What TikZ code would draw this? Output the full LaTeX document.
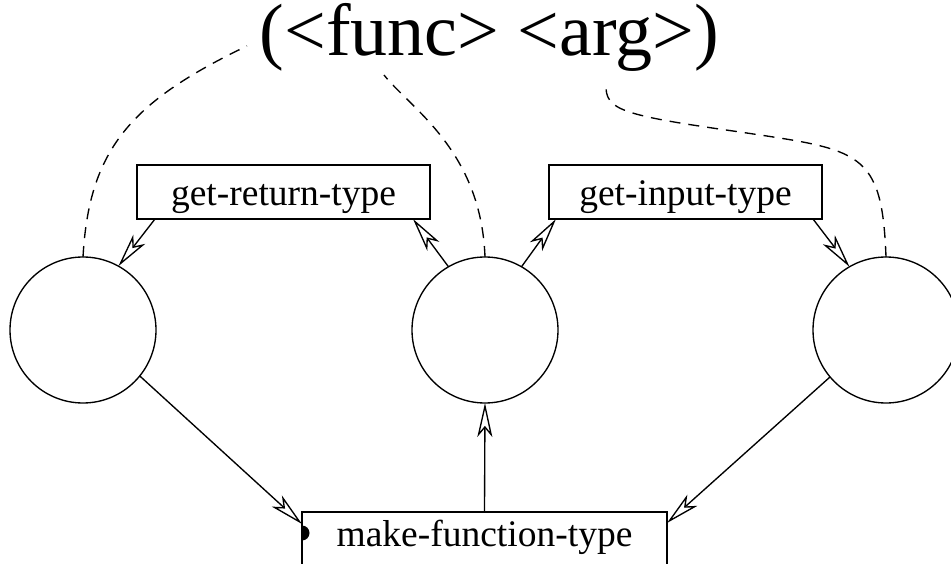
\documentclass[tikz,border=0pt]{standalone}
\usepackage{fontspec}
\setmainfont{Liberation Serif}
\usetikzlibrary{arrows.meta}
\begin{document}
\begin{tikzpicture}[x=1pt,y=-1pt,
  line width=1.35pt,
  blob/.style={draw,circle,minimum size=146pt,inner sep=0pt,outer sep=0pt},
  fbox/.style={draw,rectangle,inner sep=0pt,outer sep=0pt,minimum height=54pt,
     font=\fontsize{37.5}{40}\selectfont,text depth=9pt},
  oarrow/.style={-{Stealth[open,length=34pt,width=15pt,inset=9pt]}},
  link/.style={dashed,dash pattern=on 11pt off 8pt}]
\useasboundingbox (0,0) rectangle (951,564);
\node[font=\fontsize{74}{80}\selectfont,anchor=base,inner sep=0pt,
      text height=50pt,text depth=14pt] (T) at (489.5,56) {(<func> <arg>)};
\node[blob] (L) at (83,330) {};
\node[blob] (M) at (485,330) {};
\node[blob] (Rc) at (886,330) {};
\node[fbox,minimum width=293pt,text height=37pt] (R) at (283.5,192) {get-return-type};
\node[fbox,minimum width=273pt,text height=37pt] (I) at (685.5,192) {get-input-type};
\node[fbox,minimum width=365pt,text height=23pt] (F) at (484.5,539) {make-function-type};
\coordinate (t1) at (247,46);
\coordinate (t2) at (384,75);
\coordinate (t3) at (606,84);
% dashed links to the expression
\draw[link] (L.north) .. controls (89,150) and (130,102) .. (t1);
\draw[link] (M.north) .. controls (481,150) and (410,108) .. (t2);
\draw[link] (Rc.north) .. controls (882,150) and (860,150) .. (740,132)
   .. controls (620,115) and (605,110) .. (t3);
% arrows
\draw[oarrow] ([xshift=18pt]R.south west) -- (L.61);
\draw[oarrow] (M.120) -- ([xshift=-17pt]R.south east);
\draw[oarrow] (M.60) -- ([xshift=7pt]I.south west);
\draw[oarrow] ([xshift=-9pt]I.south east) -- (Rc.120);
\draw[oarrow] (L.-39) -- ([yshift=-12pt]F.north west);
\draw[oarrow] (Rc.-140) -- ([yshift=-11pt]F.north east);
\draw[oarrow] (F.north) -- (M.south);
\fill ([yshift=-21pt]F.north west) ++(0pt,7.5pt) arc[start angle=90,end angle=-90,radius=7.5pt] -- cycle;
\end{tikzpicture}
\end{document}
